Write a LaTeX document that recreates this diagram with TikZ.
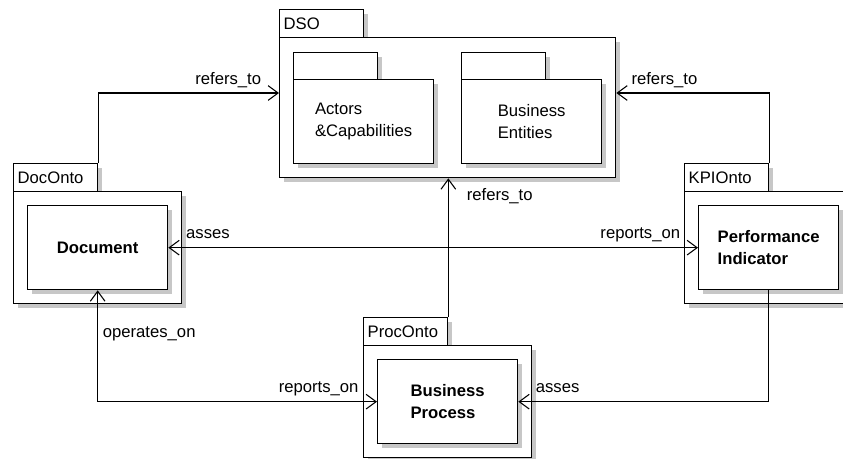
\documentclass[tikz,border=0pt]{standalone}
\usepackage{fontspec}
\setmainfont{Liberation Sans}
\usetikzlibrary{arrows.meta,shadows,positioning}
\tikzset{boxshadow/.style = {drop shadow={shadow xshift=3pt, shadow yshift=-3pt, fill=black!22, opacity=1}},
         pkgtab/.style = {draw, fill=white, line width=1pt, rectangle, anchor=north west, minimum width=63pt, minimum height=21pt, text width=57pt, inner xsep=3pt, inner ysep=0pt, align=left, boxshadow},
         pkgbody/.style = {draw, fill=white, line width=1pt, rectangle, anchor=north west, minimum width=126pt, minimum height=84pt, align=left, boxshadow},
         cls/.style = {draw, fill=white, line width=1pt, rectangle, anchor=north west, minimum width=105pt, minimum height=63pt, align=left, font=\fontsize{12.5}{16.5}\selectfont\bfseries, boxshadow},
         assoc/.style = {draw, line width=0.8pt},
         lbl/.style = {inner sep=0pt},
         >={Straight Barb[length=7.5pt,width=11pt]}}
\begin{document}
\begin{tikzpicture}[x=0.75pt,y=-0.75pt,font=\fontsize{12.5}{16.5}\selectfont]
        \useasboundingbox(0,0)rectangle(843,458);
        \clip(0,0)rectangle(843,458);
        \node[pkgtab](dsotab)at(279,9){DSO};
        \node[pkgbody,minimum width=252pt,minimum height=105pt](dso)at(279,37){};
        \node[pkgtab](actorstab)at(293,52){};
        \node[pkgbody,minimum width=105pt,minimum height=63pt](actors)at(293,79){Actors\\\&Capabilities};
        \node[pkgtab](entitiestab)at(461,52){};
        \node[pkgbody,minimum width=105pt,minimum height=63pt](entities)at(461,79){Business\\Entities};
        \node[pkgtab](doctab)at(13,163){DocOnto};
        \node[pkgbody](docpkg)at(13,191){};
        \node[cls](document)at(27,205){Document};
        \node[pkgtab](kpitab)at(684,163){KPIOnto};
        \node[pkgbody](kpipkg)at(684,191){};
        \node[cls](indicator)at(698,205){Performance\\Indicator};
        \node[pkgtab](proctab)at(363,317){ProcOnto};
        \node[pkgbody](procpkg)at(363,345){};
        \node[cls](process)at(377,359){Business\\Process};
        \draw[assoc,->](doctab.north east)|-node[lbl,at end,anchor=base east,xshift=-13pt,yshift=6.75pt](ref1){refers\_to}([yshift=-42pt]dso.north west);
        \draw[assoc,->](kpitab.north east)|-node[lbl,at end,anchor=base west,xshift=11pt,yshift=6.75pt](ref2){refers\_to}([yshift=-42pt]dso.north east);
        \draw[assoc,->](proctab.north east)--node[lbl,at end,anchor=base west,xshift=13.5pt,yshift=-16.5pt](ref3){refers\_to}(proctab.north east|-dso.south);
        \draw[assoc,<->](document.east)--node[lbl,at start,anchor=base west,xshift=13pt,yshift=6.75pt](asses1){asses}
            node[lbl,at end,anchor=base east,xshift=-13pt,yshift=6.75pt](rep1){reports\_on}(indicator.west);
        \draw[assoc,<->](document.south)|-node[lbl,at start,anchor=base west,xshift=3.5pt,yshift=-35.25pt](oper){operates\_on}
            node[lbl,at end,anchor=base east,xshift=-13.5pt,yshift=6.75pt](rep2){reports\_on}(process.west);
        \draw[assoc,->](indicator.south)|-node[lbl,at end,anchor=base west,xshift=12.75pt,yshift=6.75pt](asses2){asses}(process.east);
    \end{tikzpicture}
\end{document}
